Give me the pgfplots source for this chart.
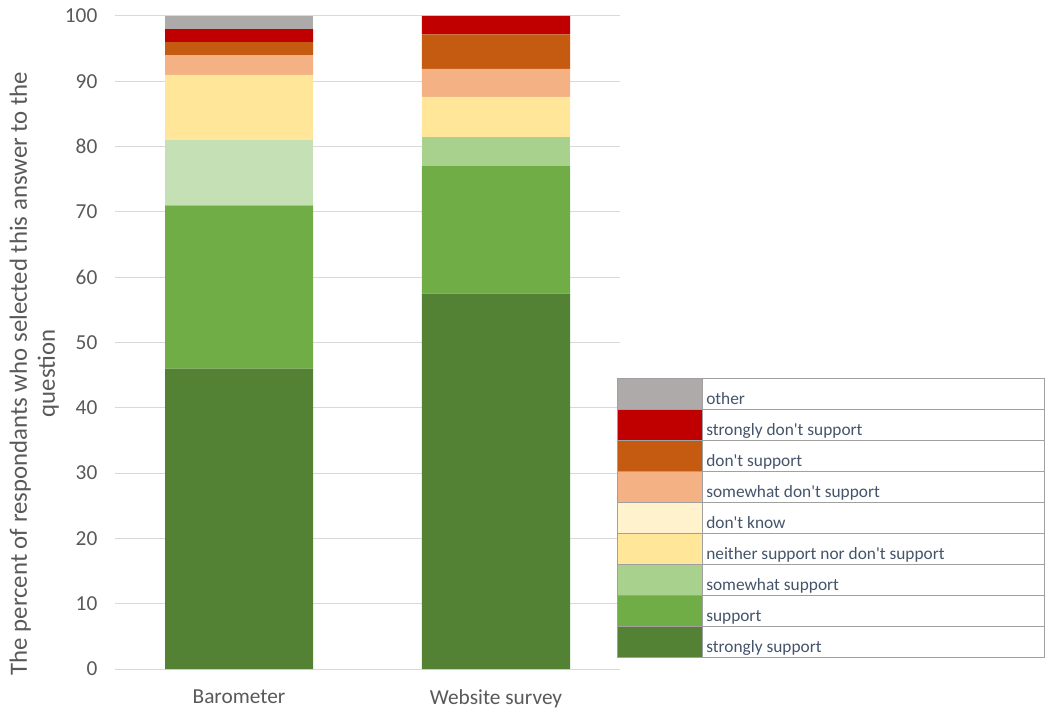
\documentclass[border=0pt]{standalone}
\usepackage{pgfplots}
\pgfplotsset{compat=1.18}
\usepackage{fontspec}
\setmainfont{Carlito}
\definecolor{cSS}{HTML}{548235}
\definecolor{cS}{HTML}{70AD47}
\definecolor{cSwS}{HTML}{A9D18E}
\definecolor{cSwSb}{HTML}{C5E0B4}
\definecolor{cN}{HTML}{FFE699}
\definecolor{cDK}{HTML}{FFF2CC}
\definecolor{cSwD}{HTML}{F4B183}
\definecolor{cDS}{HTML}{C55A11}
\definecolor{cSD}{HTML}{C00000}
\definecolor{cO}{HTML}{AEAAAA}
\definecolor{txt}{HTML}{595959}
\definecolor{legtxt}{HTML}{44546A}
\definecolor{gridc}{HTML}{D9D9D9}
\definecolor{legborder}{HTML}{A0A0A0}
\begin{document}
\begin{tikzpicture}
\useasboundingbox (-86.25pt,-31.5pt) rectangle (698.25pt,501.75pt);
\begin{axis}[
  at={(0pt,0pt)}, anchor=south west,
  scale only axis, width=378.75pt, height=489.75pt,
  ybar stacked, bar width=111pt,
  xmin=-0.4825, xmax=1.4825, ymin=0, ymax=100,
  xtick={0,1}, xticklabels={Barometer, Website survey},
  ytick={0,10,...,100},
  ymajorgrids, grid style={draw=gridc, line width=0.75pt},
  axis line style={draw=none}, major tick length=0pt,
  tick label style={font=\fontsize{16}{19}\selectfont, text=txt},
  yticklabel style={xshift=-9.7pt},
  xticklabel style={yshift=-12pt},
  /pgf/number format/assume math mode=true,
  every axis plot/.append style={draw=none},
]
\addplot[fill=cSS] coordinates {(0,46) (1,57.5)};
\addplot[fill=cS] coordinates {(0,25) (1,19.5)};
\addplot[fill=cSwSb] coordinates {(0,10) (1,0)};
\addplot[fill=cSwS] coordinates {(0,0) (1,4.5)};
\addplot[fill=cN] coordinates {(0,10) (1,6.1)};
\addplot[fill=cDK] coordinates {(0,0) (1,0)};
\addplot[fill=cSwD] coordinates {(0,3) (1,4.3)};
\addplot[fill=cDS] coordinates {(0,2) (1,5.3)};
\addplot[fill=cSD] coordinates {(0,2) (1,2.8)};
\addplot[fill=cO] coordinates {(0,2) (1,0)};
\end{axis}
\begin{scope}[x=0.75pt,y=0.75pt]
\node[rotate=90, anchor=base, text=txt, font=\fontsize{18.6}{21}\selectfont] at (-88,295.5) {The percent of respondants who selected this answer to the};
\node[rotate=90, anchor=base, text=txt, font=\fontsize{18.6}{21}\selectfont] at (-60,295.5) {question};
\foreach \c/\t [count=\i from 0] in {cO/other, cSD/strongly don\textquotesingle t support, cDS/don\textquotesingle t support, cSwD/somewhat don\textquotesingle t support, cDK/don\textquotesingle t know, cN/neither support nor don\textquotesingle t support, cSwS/somewhat support, cS/support, cSS/strongly support}{
  \pgfmathsetmacro{\top}{290-\i*30.889}
  \pgfmathsetmacro{\bot}{290-(\i+1)*30.889}
  \fill[\c] (502,\bot) rectangle (587,\top);
  \draw[legborder, line width=0.75pt] (502,\bot) rectangle (587,\top);
  \draw[legborder, line width=0.75pt] (587,\bot) rectangle (929,\top);
  \node[anchor=base west, inner sep=0pt, text=legtxt, font=\fontsize{13}{15}\selectfont] at (591,\bot+5) {\t};
}
\end{scope}
\end{tikzpicture}
\end{document}
